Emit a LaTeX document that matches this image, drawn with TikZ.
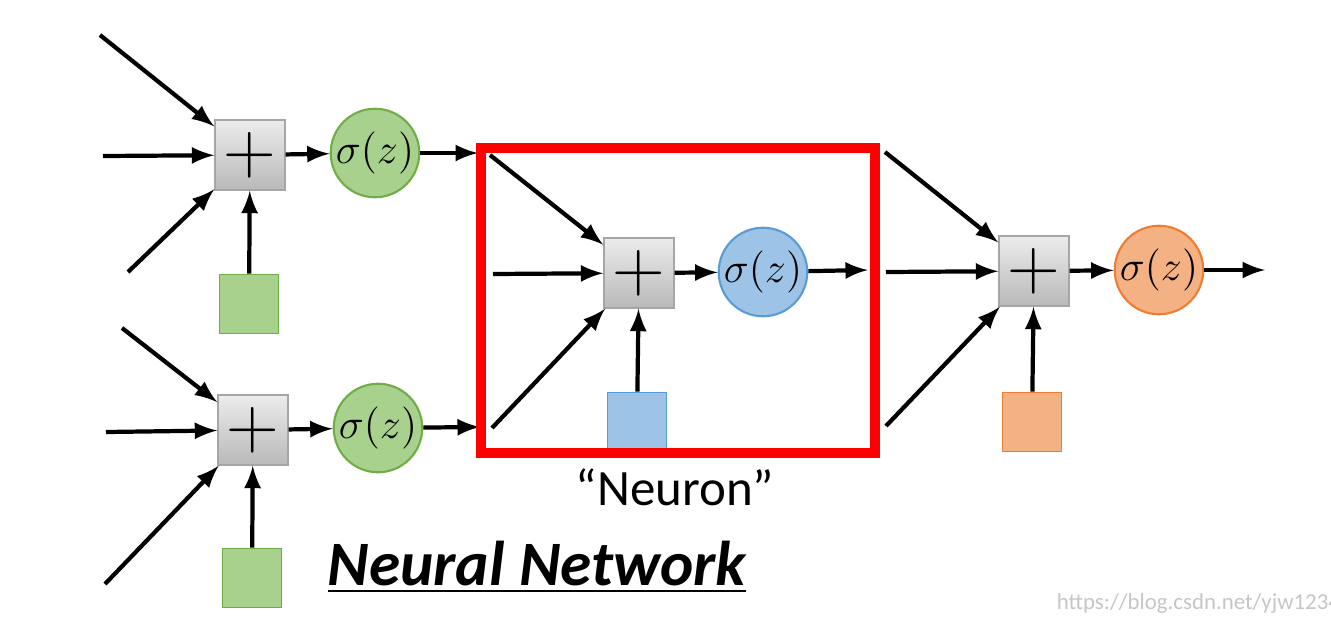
\documentclass[tikz,border=0pt]{standalone}
\usepackage{fontspec}
\setmainfont{Carlito}
\begin{document}
\begin{tikzpicture}[x=0.1mm,y=-0.1mm,->,>=latex,line width=1.2pt,
  sum/.style={draw=gray!70,line width=0.4pt,top color=gray!15,bottom color=gray!55,minimum size=0.7cm,inner sep=0pt,font=\fontsize{21}{21}\selectfont},
  act/.style={circle,draw=#1,line width=0.6pt,minimum size=0.88cm,inner sep=0pt,font=\fontsize{12}{12}\selectfont},
  bias/.style={draw=#1,line width=0.5pt,minimum size=0.59cm,inner sep=0pt}]
\definecolor{gfill}{RGB}{169,209,142}\definecolor{gline}{RGB}{112,173,71}
\definecolor{bfill}{RGB}{157,195,230}\definecolor{bline}{RGB}{91,155,213}
\definecolor{ofill}{RGB}{244,177,131}\definecolor{oline}{RGB}{237,125,49}
\useasboundingbox (0,0) rectangle (1331,622);
% first layer, top
\node[sum] (S1) at (250,155) {$+$};
\node[act=gline,fill=gfill] (A1) at (375,153) {$\sigma\bigl(z\bigr)$};
\node[bias=gline,fill=gfill] (B1) at (249,304) {};
\coordinate (i11) at (100,35); \coordinate (i12) at (103,156); \coordinate (i13) at (128,272);
\coordinate (o1) at (478,153);
% first layer, bottom
\node[sum] (S2) at (253,430) {$+$};
\node[act=gline,fill=gfill] (A2) at (378,428) {$\sigma\bigl(z\bigr)$};
\node[bias=gline,fill=gfill] (B2) at (252,578) {};
\coordinate (i21) at (122,328); \coordinate (i22) at (106,432); \coordinate (i23) at (105,584);
\coordinate (o2) at (480,427);
% neuron
\node[sum] (S3) at (639,273) {$+$};
\node[act=bline,fill=bfill] (A3) at (763,272) {$\sigma\bigl(z\bigr)$};
\node[bias=bline,fill=bfill] (B3) at (637,422) {};
\coordinate (i31) at (490,155); \coordinate (i32) at (493,274); \coordinate (i33) at (492,428);
\coordinate (o3) at (868,270);
% output
\node[sum] (S4) at (1034,271) {$+$};
\node[act=oline,fill=ofill] (A4) at (1159,270) {$\sigma\bigl(z\bigr)$};
\node[bias=oline,fill=ofill] (B4) at (1032,422) {};
\coordinate (i41) at (885,152); \coordinate (i42) at (886,272); \coordinate (i43) at (886,426);
\coordinate (o4) at (1265,270);
\foreach \n in {1,2,3,4}{
  \draw (i\n1) -- (S\n); \draw (i\n2) -- (S\n); \draw (i\n3) -- (S\n);
  \draw (B\n) -- (S\n); \draw (S\n) -- (A\n); \draw (A\n) -- (o\n);
}
\draw[-,red,line width=2.6pt] (481,148) rectangle (875,453);
\node[font=\fontsize{14.5}{15}\selectfont] (lbl) at (675,487) {“Neuron”};
\node[font=\fontsize{18}{18}\selectfont\bfseries\itshape] (title) at (537,567) {\underline{Neural Network}};
\node[text=gray!45,font=\fontsize{6.5}{7}\selectfont] (url) at (1210,604) {https://blog.csdn.net/yjw123456};
\end{tikzpicture}
\end{document}
